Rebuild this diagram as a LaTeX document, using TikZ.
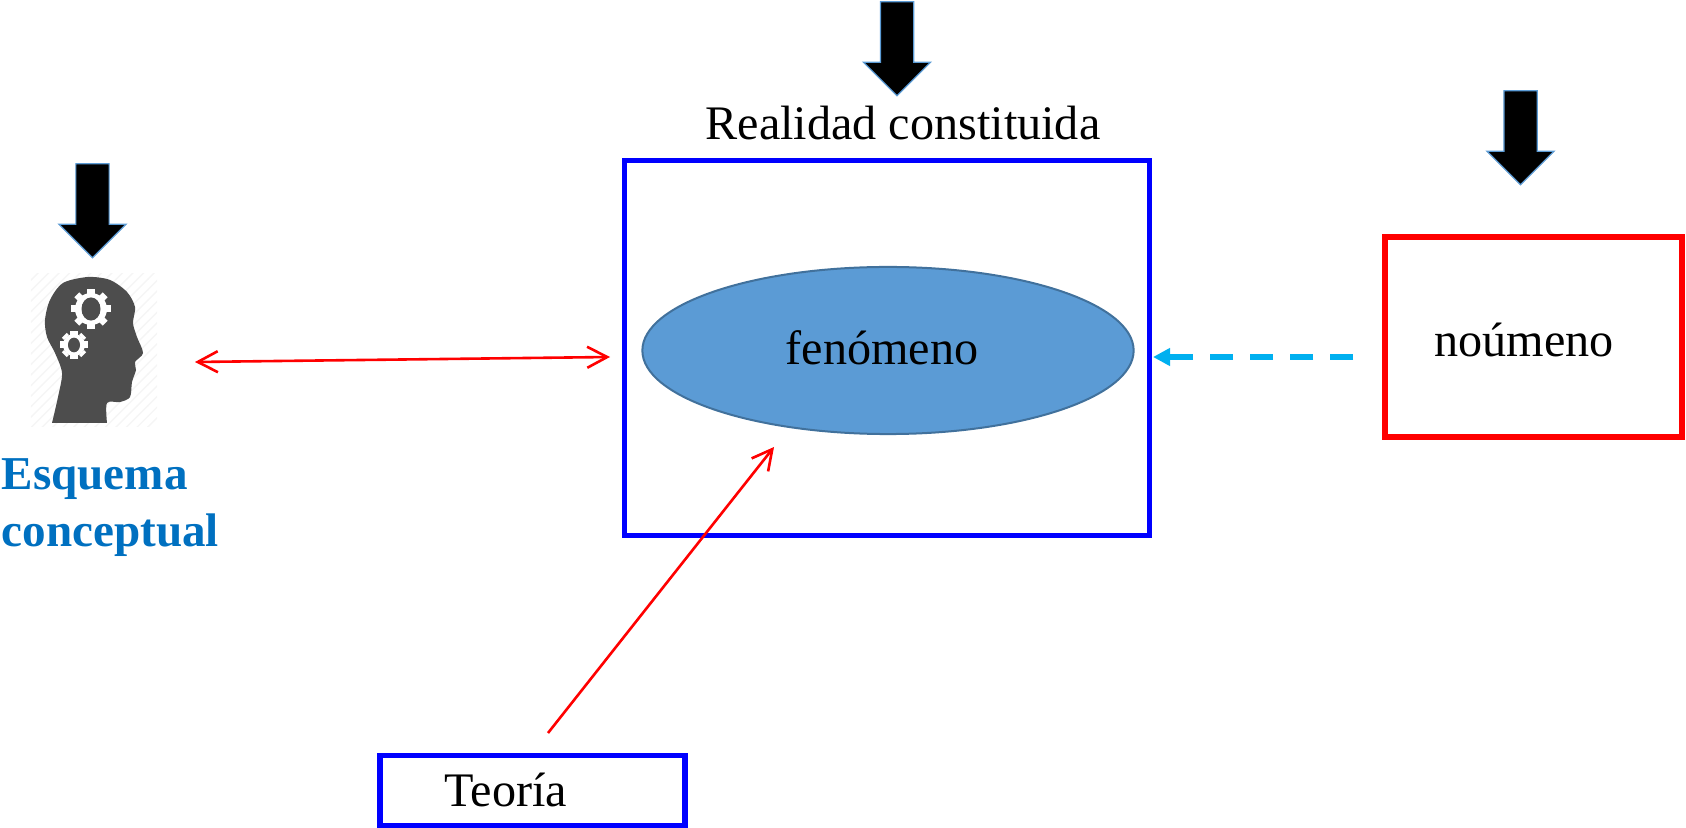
\documentclass[tikz,border=0pt]{standalone}
\usepackage{fontspec}
\setmainfont{Liberation Serif}
\usetikzlibrary{arrows.meta,shapes.geometric,shapes.arrows,patterns}
\definecolor{boxblue}{HTML}{0000FF}
\definecolor{ellfill}{HTML}{5B9BD5}
\definecolor{elldraw}{HTML}{41719C}
\definecolor{dashblue}{HTML}{00B0F0}
\definecolor{titleblue}{HTML}{0070C0}
\definecolor{headgray}{HTML}{4D4D4D}
\begin{document}
\begin{tikzpicture}[x=0.01cm,y=-0.01cm]
\tikzstyle{downarrow}=[draw=ellfill, fill=black, line width=0.35pt, shape=single arrow, rotate=-90, inner xsep=0pt, inner ysep=0.16cm, minimum height=0.94cm, minimum width=0.66cm, single arrow head extend=0.17cm, single arrow tip angle=90]
\tikzstyle{box}=[draw, line width=0.055cm, inner sep=0pt]
\tikzstyle{txt}=[font=\fontsize{13.7}{16}\selectfont, inner sep=0pt]
\tikzstyle{redline}=[draw=red, line width=0.026cm]
\useasboundingbox (0,0) rectangle (1686,828);

\node[downarrow] (arrowT) at (897,40.5) {};
\node[downarrow] (arrowN) at (1520.5,129.5) {};
\node[downarrow] (arrowE) at (92.5,202.5) {};

\node[box, draw=boxblue, minimum width=5.25cm, minimum height=3.75cm] (real) at (887,348) {};
\node[box, draw=red, minimum width=2.97cm, minimum height=2cm] (noum) at (1533.5,337) {};
\node[box, draw=boxblue, minimum width=3.05cm, minimum height=0.7cm] (teo) at (532.5,790.5) {};
\node[ellipse, draw=elldraw, fill=ellfill, line width=0.02cm, inner sep=0pt, minimum width=4.91cm, minimum height=1.67cm] (fen) at (888,350.5) {};

\node[txt] (realT) at (903,123) {Realidad constituida};
\node[txt] (fenT) at (882,348) {fenómeno};
\node[txt] (noumT) at (1524,340) {noúmeno};
\node[txt] (teoT) at (506,790) {Teoría};
\node[font=\fontsize{13.4}{16.2}\selectfont\bfseries, inner sep=0pt, text=titleblue, align=left, anchor=north west] (esq) at (1,458) {Esquema\\conceptual};

% head with gears
\node[pattern=north east lines, pattern color=black!4, inner sep=0pt, minimum width=1.26cm, minimum height=1.52cm] (head) at (94,350) {};
\fill[headgray] plot[smooth] coordinates {(52,423) (58,397) (62,373) (55,353) (47,337) (45,320) (50,300) (63,283) (88,277) (110,280) (127,292) (135,307) (133,323) (137,337) (143,353) (135,362) (136,370) (132,382) (130,397) (120,402) (107,403) (107,423)} -- cycle;
\foreach \cx/\cy/\ro/\ri in {91/309/16/9.5, 74/345/11/6}
{
  \fill[white] (\cx,\cy) circle[radius=\ro*0.01cm];
  \foreach \a in {0,45,...,315}
    \fill[white,shift={(\cx,\cy)},rotate=\a] (-0.035cm,-\ro*0.0095cm) rectangle (0.035cm,-\ro*0.0125cm);
  \fill[headgray] (\cx,\cy) ellipse[x radius=\ri*0.01cm, y radius=\ri*0.0122cm];
}

\coordinate (headR) at (195,362);
\coordinate (realL) at (610,357);
\coordinate (teoU) at (548,733);
\coordinate (fenD) at (774,447);
\coordinate (noumL) at (1353,357);
\coordinate (realR) at (1153,357);

\draw[redline, {Straight Barb[length=0.2cm,width=0.21cm]}-{Straight Barb[length=0.2cm,width=0.21cm]}] (headR) -- (realL);
\draw[redline, -{Straight Barb[length=0.2cm,width=0.21cm]}] (teoU) -- (fenD);
\draw[draw=dashblue, line width=0.056cm, dash pattern=on 0.233cm off 0.167cm, -{Triangle[length=0.17cm,width=0.17cm]}, color=dashblue] (noumL) -- (realR);
\end{tikzpicture}
\end{document}
